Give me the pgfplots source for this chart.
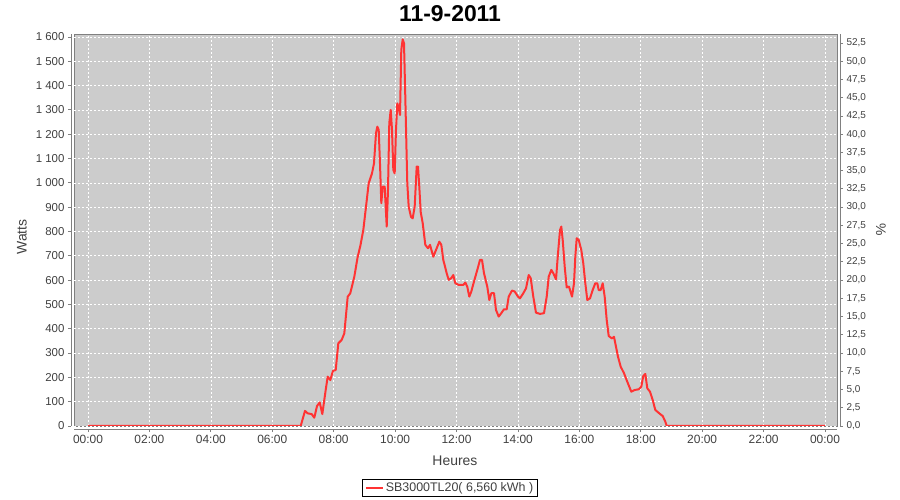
\documentclass[border=0pt]{standalone}
\usepackage{fontspec}
\setmainfont{Liberation Sans}
\usepackage{pgfplots}
\pgfplotsset{compat=1.18}
\definecolor{plotbg}{RGB}{204,204,204}
\definecolor{serie}{RGB}{255,51,51}
\definecolor{axgray}{RGB}{128,128,128}
\definecolor{txt}{RGB}{64,64,64}

\begin{document}
\begin{tikzpicture}
\useasboundingbox (0,0) rectangle (900bp,500bp);
\begin{axis}[
  at={(74bp,74bp)}, anchor=south west,
  scale only axis, width=763bp, height=392bp,
  xmin=-0.456, xmax=24.39, ymin=0, ymax=1612,
  axis background/.style={fill=plotbg, draw=axgray, line width=0.8bp},
  axis x line*=bottom, axis y line*=left,
  axis x line shift=3bp, axis y line shift=3bp,
  axis line style={draw=axgray, line width=0.8bp, -},
  tick align=outside, major tick length=3bp,
  tick style={draw=axgray, line width=0.8bp},
  xtick={0,2,...,24},
  xticklabels={00:00,02:00,04:00,06:00,08:00,10:00,12:00,14:00,16:00,18:00,20:00,22:00,00:00},
  ytick={0,100,...,1600},
  /pgf/number format/assume math mode=true,
  /pgf/number format/1000 sep={\ },
  grid=major,
  major grid style={draw=white, line width=0.6bp, dash pattern=on 2bp off 2bp},
  tick label style={text=txt},
  yticklabel style={font=\fontsize{11.5}{12}\selectfont},
  xticklabel style={font=\fontsize{12}{12}\selectfont},
  xlabel={Heures}, ylabel={Watts},
  every axis x label/.style={at={(axis description cs:0.4993,-0.0893)}, anchor=center, font=\fontsize{14}{14}\selectfont, text=txt},
  every axis y label/.style={at={(axis description cs:-0.0682,0.482)}, anchor=center, rotate=90, font=\fontsize{14}{14}\selectfont, text=txt},
  title={11-9-2011},
  every axis title/.style={at={(axis description cs:0.4928,1.051)}, anchor=center, font=\bfseries\fontsize{23}{23}\selectfont},
  legend style={at={(axis description cs:0.4928,-0.158)}, anchor=center, draw=black, line width=0.6bp, fill=white, font=\fontsize{12.5}{13}\selectfont, text=txt, inner xsep=2bp, inner ysep=1bp},
  legend cell align=left,
]
\addplot[serie, line width=2bp, line join=round] table {
x y
0 0
6.926 0
7.066 62
7.154 52
7.284 49
7.369 34
7.457 82
7.545 97
7.630 49
7.740 148
7.805 203
7.890 189
7.978 227
8.066 230
8.151 340
8.261 354
8.346 381
8.457 532
8.541 546
8.672 614
8.782 696
8.867 740
8.965 806
9.053 902
9.140 998
9.248 1039
9.313 1080
9.378 1204
9.421 1231
9.466 1218
9.508 1080
9.551 916
9.596 984
9.661 984
9.727 820
9.769 971
9.811 1245
9.857 1300
9.899 1218
9.942 1053
9.987 1039
10.029 1218
10.072 1327
10.117 1307
10.160 1279
10.202 1547
10.248 1590
10.290 1574
10.332 1355
10.378 1100
10.397 998
10.443 902
10.518 860
10.573 854
10.638 902
10.703 1067
10.746 1067
10.788 984
10.834 880
10.899 834
10.984 745
11.071 731
11.137 745
11.244 696
11.332 724
11.440 758
11.505 745
11.570 683
11.680 628
11.746 601
11.830 608
11.895 621
11.960 587
12.071 580
12.221 580
12.286 590
12.351 573
12.416 532
12.482 553
12.569 594
12.677 642
12.765 683
12.830 683
12.895 628
13.002 573
13.068 518
13.133 546
13.221 546
13.286 477
13.374 450
13.458 464
13.546 480
13.634 480
13.699 532
13.807 557
13.895 553
14.002 532
14.067 525
14.175 546
14.263 566
14.351 621
14.416 608
14.500 532
14.588 466
14.718 461
14.849 464
14.937 532
15.002 614
15.087 642
15.152 628
15.240 603
15.305 710
15.370 806
15.412 820
15.458 765
15.523 655
15.588 570
15.663 573
15.761 532
15.826 587
15.868 696
15.914 772
15.979 765
16.063 724
16.128 669
16.194 587
16.259 518
16.347 525
16.434 559
16.519 587
16.584 587
16.630 559
16.695 559
16.760 587
16.825 532
16.891 436
16.956 370
17.063 360
17.128 367
17.171 340
17.258 285
17.346 244
17.454 217
17.561 182
17.692 141
17.802 148
17.933 151
18.017 162
18.082 206
18.148 214
18.213 155
18.301 141
18.388 107
18.473 66
18.604 52
18.714 41
18.799 18
18.845 0
24 0
};
\addlegendentry{SB3000TL20( 6,560 kWh )}
\end{axis}
\begin{axis}[
  at={(74bp,74bp)}, anchor=south west,
  scale only axis, width=763bp, height=392bp,
  xmin=-0.456, xmax=24.39, ymin=0, ymax=53.733,
  axis x line=none, axis y line*=right,
  axis y line shift=3bp,
  axis line style={draw=axgray, line width=0.8bp, -},
  tick align=outside, major tick length=3bp,
  tick style={draw=axgray, line width=0.8bp},
  ytick={0,2.5,...,52.5},
  /pgf/number format/assume math mode=true,
  yticklabel={\pgfmathprintnumber[fixed,fixed zerofill,precision=1,use comma]{\tick}},
  yticklabel style={font=\fontsize{10}{10}\selectfont, text=txt},
  ylabel={\%},
  every axis y label/.style={at={(axis description cs:1.0577,0.5)}, anchor=center, rotate=-90, font=\fontsize{14}{14}\selectfont, text=txt},
]
\end{axis}
\end{tikzpicture}
\end{document}
